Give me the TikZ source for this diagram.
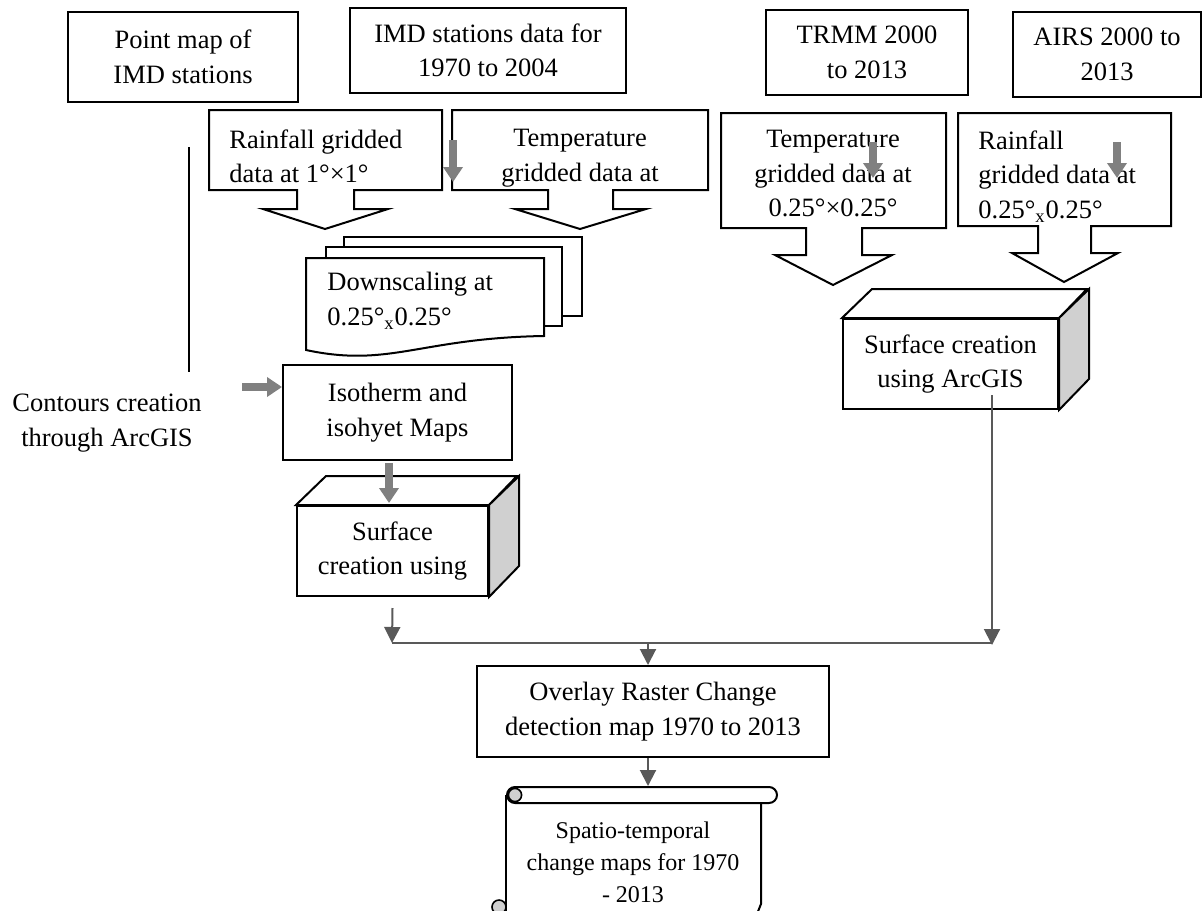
\documentclass[tikz,border=0pt]{standalone}
\usepackage{fontspec}
\setmainfont{Liberation Serif}
\usetikzlibrary{arrows.meta,calc}
\definecolor{arrgray}{HTML}{808080}
\definecolor{conngray}{HTML}{595959}
\definecolor{sidegray}{HTML}{D0D0D0}
\newcommand{\flowfont}{\fontsize{13.25}{17.25}\selectfont}
\newcommand{\scrollfont}{\fontsize{12}{16}\selectfont}

\begin{document}
\begin{tikzpicture}[
  x=0.5pt,
  y=-0.5pt,
  every node/.style={font=\flowfont, inner sep=0pt},
  flowbox/.style={draw, line width=1pt, align=center},
  calltxt/.style={anchor=north, align=center},
  outline/.style={draw, line width=1pt, line join=miter},
  cubeside/.style={draw, line width=1pt, fill=sidegray},
  sheet/.style={draw, line width=1pt, fill=white},
  grayarr/.style={draw=arrgray, line width=3.6pt, -{Triangle[length=7.5pt,width=9.5pt]}},
  conn/.style={draw=conngray, line width=1pt, -{Triangle[length=8pt,width=8pt]}}
]
\useasboundingbox (0,0) rectangle (1203,910);

% data sources
\node[flowbox, minimum width=115pt, minimum height=45pt] (pointmap) at (183,57) {Point map of\\IMD stations};
\node[flowbox, minimum width=138pt, minimum height=42.5pt] (imddata) at (488,50.5) {IMD stations data for\\1970 to 2004};
\node[flowbox, minimum width=101pt, minimum height=42.5pt] (trmm) at (867,52.5) {TRMM 2000\\to 2013};
\node[flowbox, minimum width=94pt, minimum height=42.5pt] (airs) at (1107,54.5) {AIRS 2000 to\\2013};

% gridded data callouts
\draw[outline] (209,110) -- (442,110) -- (442,190) -- (354,190) -- (354,209) -- (388,209) -- (325,229) -- (263,209) -- (297,209) -- (297,190) -- (209,190) -- cycle;
\node[anchor=north west, align=left] (rfgrid) at (229,129) {Rainfall gridded\\data at 1°×1°};
\draw[outline] (452,110) -- (708,110) -- (708,190) -- (613,190) -- (613,209) -- (646,209) -- (580,229) -- (515,209) -- (548,209) -- (548,190) -- (452,190) -- cycle;
\node[calltxt] (tpgrid) at (580,129) {Temperature\\gridded data at};
\draw[outline] (721,113) -- (946,113) -- (946,228) -- (862,228) -- (862,255) -- (892,255) -- (833,285) -- (775,255) -- (806,255) -- (806,228) -- (721,228) -- cycle;
\node[calltxt] (tpgridr) at (833,130) {Temperature\\gridded data at\\0.25°×0.25°};
\draw[outline] (958,113) -- (1171,113) -- (1171,226) -- (1091,226) -- (1091,253) -- (1118,253) -- (1064,282) -- (1012,253) -- (1038,253) -- (1038,226) -- (958,226) -- cycle;
\node[anchor=north west, align=left] (rfgridr) at (978,130) {Rainfall\\gridded data at\\0.25°\textsubscript{x}0.25°};

\coordinate (ga1) at (453,140);
\coordinate (ga1e) at (453,182);
\coordinate (ga2) at (873,142);
\coordinate (ga2e) at (873,178);
\coordinate (ga3) at (1117,142);
\coordinate (ga3e) at (1117,178);
\draw[grayarr] (ga1) -- (ga1e);
\draw[grayarr] (ga2) -- (ga2e);
\draw[grayarr] (ga3) -- (ga3e);

% downscaling (stacked sheets)
\draw[sheet] (344,237) rectangle (582,316);
\draw[sheet] (326,247) rectangle (562,326);
\draw[sheet] (306,258) -- (544,258) -- (544,336) .. controls (420,338) and (390,368) .. (306,350) -- cycle;
\node[anchor=north west, align=left] (downsc) at (327,272) {Downscaling at\\0.25°\textsubscript{x}0.25°};

% contours
\coordinate (vtop) at (189,147);
\coordinate (vbot) at (189,372);
\draw[line width=1pt] (vtop) -- (vbot);
\node[align=center] (contour) at (107,423) {Contours creation\\through ArcGIS};
\node[flowbox, minimum width=114.5pt, minimum height=47.5pt] (iso) at (397.5,412.5) {Isotherm and\\isohyet Maps};
\coordinate (ca) at (242,387);
\draw[grayarr] (ca) -- (ca -| iso.west);

% surface creation, left
\node[flowbox, fill=white, minimum width=95.5pt, minimum height=45pt] (cubeL) at (392.5,551) {Surface\\creation using};
\draw[sheet] (cubeL.north west) -- ++(30,-29) -- ++(191,0) -- (cubeL.north east) -- cycle;
\draw[cubeside] (cubeL.north east) -- ++(30,-29) -- ++(0,90) -- (cubeL.south east) -- cycle;
\coordinate (ib) at (389,463);
\coordinate (ibe) at (389,503);
\draw[grayarr] (ib) -- (ibe);

% surface creation, right
\node[flowbox, fill=white, minimum width=107.5pt, minimum height=45pt] (cubeR) at (950.5,364) {Surface creation\\using ArcGIS};
\draw[sheet] (cubeR.north west) -- ++(30,-29) -- ++(215,0) -- (cubeR.north east) -- cycle;
\draw[cubeside] (cubeR.north east) -- ++(30,-29) -- ++(0,90) -- (cubeR.south east) -- cycle;

% merge
\coordinate (joinL) at (392,643);
\coordinate (joinR) at (992,643);
\coordinate (merge) at (648,643);
\coordinate (srfR) at (992,395);
\draw[conn] ([yshift=-5.5pt]cubeL.south) -- (joinL);
\draw[conngray, line width=1pt] (joinL) -- (joinR);
\draw[conn] (srfR) -- ([yshift=-1pt]joinR);

\node[flowbox, minimum width=176pt, minimum height=45.5pt] (overlay) at (653,711.5) {Overlay Raster Change\\detection map 1970 to 2013};
\draw[conn] (merge) -- (merge |- overlay.north);

% output scroll
\coordinate (scrolltop) at (633,786);
\draw[line width=1pt] (506,795) -- (506,916);
\draw[line width=1pt] (761,803) -- (761,904) -- (757,914);
\draw[line width=1pt, fill=white, rounded corners=4pt] (507,787) rectangle (777,803);
\draw[line width=0.8pt, fill=sidegray] (515,795) circle (3.3pt);
\draw[line width=0.8pt, fill=sidegray] (499,907) circle (3.5pt);
\node[font=\scrollfont, align=center] (scroll) at (633,862) {Spatio-temporal\\change maps for 1970\\- 2013};
\draw[conn] (merge |- overlay.south) -- (merge |- scrolltop);
\end{tikzpicture}
\end{document}
